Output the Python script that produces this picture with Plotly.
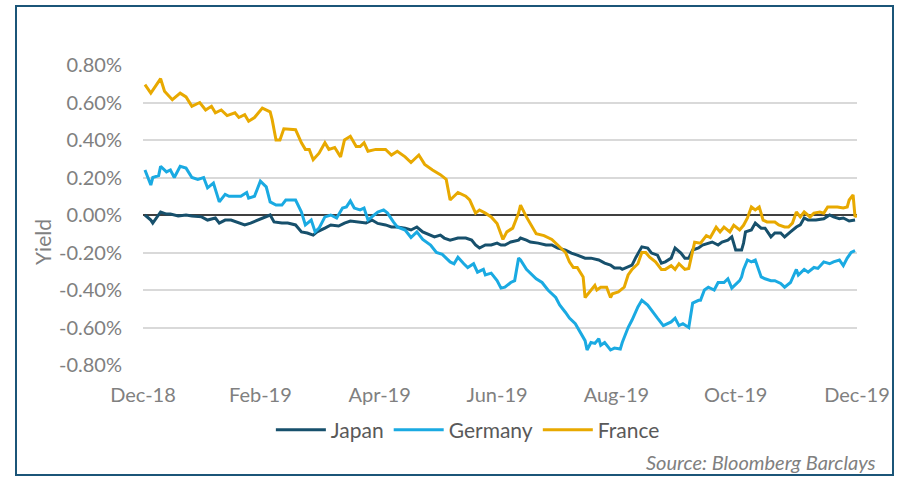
import plotly.graph_objects as go

# (date, yield %) readings per series
japan = [
    ("2019-01-01", 0.0), ("2019-01-04", -0.027), ("2019-01-05", -0.043), ("2019-01-07", -0.016),
    ("2019-01-09", 0.016), ("2019-01-12", 0.005), ("2019-01-14", 0.005), ("2019-01-18", -0.005),
    ("2019-01-22", 0.0), ("2019-01-25", -0.005), ("2019-01-30", -0.01), ("2019-02-02", -0.027),
    ("2019-02-06", -0.016), ("2019-02-08", -0.043), ("2019-02-11", -0.027), ("2019-02-14", -0.027),
    ("2019-02-18", -0.043), ("2019-02-21", -0.053), ("2019-02-24", -0.043), ("2019-02-28", -0.027),
    ("2019-03-02", -0.016), ("2019-03-06", 0.0), ("2019-03-08", -0.037), ("2019-03-12", -0.043),
    ("2019-03-15", -0.043), ("2019-03-19", -0.053), ("2019-03-22", -0.09), ("2019-03-25", -0.096),
    ("2019-03-28", -0.107), ("2019-03-30", -0.09), ("2019-04-03", -0.07), ("2019-04-06", -0.053),
    ("2019-04-10", -0.059), ("2019-04-13", -0.043), ("2019-04-16", -0.032), ("2019-04-20", -0.037),
    ("2019-04-24", -0.043), ("2019-04-27", -0.027), ("2019-04-30", -0.045), ("2019-05-04", -0.053),
    ("2019-05-07", -0.064), ("2019-05-10", -0.064), ("2019-05-14", -0.07), ("2019-05-17", -0.08),
    ("2019-05-20", -0.064), ("2019-05-23", -0.09), ("2019-05-27", -0.107), ("2019-05-29", -0.117),
    ("2019-06-01", -0.107), ("2019-06-03", -0.123), ("2019-06-06", -0.134), ("2019-06-10", -0.123),
    ("2019-06-14", -0.123), ("2019-06-17", -0.134), ("2019-06-19", -0.16), ("2019-06-21", -0.176),
    ("2019-06-24", -0.16), ("2019-06-27", -0.16), ("2019-06-30", -0.15), ("2019-07-02", -0.16),
    ("2019-07-04", -0.16), ("2019-07-07", -0.144), ("2019-07-11", -0.134), ("2019-07-12", -0.123),
    ("2019-07-15", -0.134), ("2019-07-17", -0.144), ("2019-07-21", -0.15), ("2019-07-25", -0.16),
    ("2019-07-28", -0.16), ("2019-07-31", -0.176), ("2019-08-04", -0.187), ("2019-08-07", -0.203),
    ("2019-08-10", -0.214), ("2019-08-14", -0.23), ("2019-08-17", -0.23), ("2019-08-21", -0.24),
    ("2019-08-24", -0.257), ("2019-08-27", -0.267), ("2019-08-29", -0.283), ("2019-09-01", -0.283),
    ("2019-09-02", -0.29), ("2019-09-04", -0.28), ("2019-09-07", -0.267), ("2019-09-09", -0.225),
    ("2019-09-12", -0.17), ("2019-09-15", -0.176), ("2019-09-17", -0.203), ("2019-09-20", -0.214),
    ("2019-09-22", -0.257), ("2019-09-24", -0.25), ("2019-09-27", -0.23), ("2019-09-29", -0.176),
    ("2019-10-02", -0.203), ("2019-10-04", -0.23), ("2019-10-06", -0.23), ("2019-10-08", -0.187),
    ("2019-10-11", -0.176), ("2019-10-13", -0.16), ("2019-10-16", -0.15), ("2019-10-18", -0.144),
    ("2019-10-21", -0.16), ("2019-10-23", -0.144), ("2019-10-26", -0.134), ("2019-10-28", -0.117),
    ("2019-10-30", -0.187), ("2019-11-02", -0.187), ("2019-11-03", -0.15), ("2019-11-04", -0.09),
    ("2019-11-07", -0.08), ("2019-11-09", -0.043), ("2019-11-12", -0.07), ("2019-11-14", -0.07),
    ("2019-11-17", -0.117), ("2019-11-19", -0.096), ("2019-11-22", -0.096), ("2019-11-24", -0.117),
    ("2019-11-27", -0.09), ("2019-11-30", -0.064), ("2019-12-02", -0.053), ("2019-12-04", -0.016),
    ("2019-12-06", -0.027), ("2019-12-10", -0.027), ("2019-12-14", -0.02), ("2019-12-17", 0.0),
    ("2019-12-19", -0.01), ("2019-12-22", -0.02), ("2019-12-24", -0.016), ("2019-12-27", -0.032),
    ("2019-12-30", -0.027),
]

germany = [
    ("2019-01-01", 0.24), ("2019-01-04", 0.16), ("2019-01-05", 0.20), ("2019-01-08", 0.21),
    ("2019-01-09", 0.26), ("2019-01-12", 0.23), ("2019-01-14", 0.24), ("2019-01-16", 0.20),
    ("2019-01-19", 0.26), ("2019-01-22", 0.25), ("2019-01-25", 0.20), ("2019-01-28", 0.19),
    ("2019-01-31", 0.20), ("2019-02-02", 0.145), ("2019-02-05", 0.17), ("2019-02-08", 0.07),
    ("2019-02-11", 0.11), ("2019-02-13", 0.10), ("2019-02-16", 0.10), ("2019-02-19", 0.10),
    ("2019-02-22", 0.12), ("2019-02-23", 0.09), ("2019-02-26", 0.10), ("2019-03-01", 0.18),
    ("2019-03-04", 0.15), ("2019-03-06", 0.07), ("2019-03-09", 0.053), ("2019-03-12", 0.053),
    ("2019-03-14", 0.08), ("2019-03-19", 0.08), ("2019-03-22", 0.016), ("2019-03-24", -0.053),
    ("2019-03-27", -0.027), ("2019-03-29", -0.09), ("2019-03-31", -0.07), ("2019-04-03", -0.01),
    ("2019-04-06", 0.0), ("2019-04-09", -0.016), ("2019-04-12", 0.037), ("2019-04-14", 0.043),
    ("2019-04-16", 0.075), ("2019-04-18", 0.037), ("2019-04-21", 0.027), ("2019-04-23", 0.037),
    ("2019-04-25", -0.027), ("2019-04-28", 0.0), ("2019-04-30", 0.016), ("2019-05-03", 0.027),
    ("2019-05-05", 0.01), ("2019-05-08", -0.037), ("2019-05-10", -0.064), ("2019-05-14", -0.08),
    ("2019-05-17", -0.12), ("2019-05-20", -0.09), ("2019-05-23", -0.13), ("2019-05-27", -0.16),
    ("2019-05-30", -0.20), ("2019-06-02", -0.21), ("2019-06-06", -0.25), ("2019-06-08", -0.26),
    ("2019-06-10", -0.225), ("2019-06-13", -0.26), ("2019-06-15", -0.28), ("2019-06-18", -0.26),
    ("2019-06-20", -0.305), ("2019-06-23", -0.29), ("2019-06-24", -0.32), ("2019-06-27", -0.31),
    ("2019-06-30", -0.35), ("2019-07-02", -0.39), ("2019-07-04", -0.385), ("2019-07-07", -0.36),
    ("2019-07-09", -0.35), ("2019-07-11", -0.23), ("2019-07-12", -0.24), ("2019-07-15", -0.29),
    ("2019-07-17", -0.31), ("2019-07-20", -0.34), ("2019-07-23", -0.36), ("2019-07-26", -0.40),
    ("2019-07-30", -0.44), ("2019-08-01", -0.48), ("2019-08-04", -0.52), ("2019-08-06", -0.55),
    ("2019-08-09", -0.58), ("2019-08-11", -0.615), ("2019-08-14", -0.67), ("2019-08-15", -0.72),
    ("2019-08-17", -0.68), ("2019-08-19", -0.685), ("2019-08-21", -0.66), ("2019-08-22", -0.695),
    ("2019-08-24", -0.68), ("2019-08-27", -0.72), ("2019-08-29", -0.71), ("2019-09-01", -0.715),
    ("2019-09-02", -0.68), ("2019-09-05", -0.60), ("2019-09-07", -0.56), ("2019-09-10", -0.49),
    ("2019-09-12", -0.455), ("2019-09-15", -0.48), ("2019-09-17", -0.51), ("2019-09-20", -0.55),
    ("2019-09-23", -0.59), ("2019-09-25", -0.58), ("2019-09-27", -0.57), ("2019-09-29", -0.55),
    ("2019-10-01", -0.59), ("2019-10-03", -0.58), ("2019-10-06", -0.60), ("2019-10-08", -0.47),
    ("2019-10-11", -0.455), ("2019-10-12", -0.455), ("2019-10-14", -0.40), ("2019-10-16", -0.385),
    ("2019-10-19", -0.40), ("2019-10-21", -0.36), ("2019-10-24", -0.36), ("2019-10-26", -0.34),
    ("2019-10-28", -0.39), ("2019-11-01", -0.35), ("2019-11-02", -0.33), ("2019-11-03", -0.29),
    ("2019-11-05", -0.24), ("2019-11-07", -0.25), ("2019-11-09", -0.24), ("2019-11-12", -0.33),
    ("2019-11-14", -0.34), ("2019-11-17", -0.35), ("2019-11-19", -0.35), ("2019-11-22", -0.365),
    ("2019-11-24", -0.385), ("2019-11-27", -0.36), ("2019-11-30", -0.29), ("2019-12-01", -0.32),
    ("2019-12-04", -0.29), ("2019-12-06", -0.305), ("2019-12-09", -0.28), ("2019-12-11", -0.285),
    ("2019-12-14", -0.25), ("2019-12-17", -0.26), ("2019-12-19", -0.25), ("2019-12-22", -0.24),
    ("2019-12-24", -0.27), ("2019-12-26", -0.23), ("2019-12-28", -0.20), ("2019-12-30", -0.19),
]

france = [
    ("2019-01-01", 0.695), ("2019-01-04", 0.65), ("2019-01-09", 0.727), ("2019-01-11", 0.66),
    ("2019-01-15", 0.615), ("2019-01-19", 0.65), ("2019-01-22", 0.63), ("2019-01-25", 0.58),
    ("2019-01-29", 0.60), ("2019-02-01", 0.56), ("2019-02-04", 0.58), ("2019-02-06", 0.545),
    ("2019-02-09", 0.56), ("2019-02-12", 0.53), ("2019-02-16", 0.545), ("2019-02-18", 0.52),
    ("2019-02-21", 0.535), ("2019-02-23", 0.50), ("2019-02-26", 0.52), ("2019-03-02", 0.57),
    ("2019-03-06", 0.55), ("2019-03-07", 0.51), ("2019-03-09", 0.40), ("2019-03-11", 0.40),
    ("2019-03-13", 0.46), ("2019-03-17", 0.455), ("2019-03-19", 0.455), ("2019-03-22", 0.385),
    ("2019-03-24", 0.35), ("2019-03-26", 0.35), ("2019-03-28", 0.295), ("2019-03-31", 0.33),
    ("2019-04-03", 0.385), ("2019-04-05", 0.35), ("2019-04-08", 0.36), ("2019-04-11", 0.31),
    ("2019-04-13", 0.40), ("2019-04-16", 0.42), ("2019-04-19", 0.365), ("2019-04-21", 0.365),
    ("2019-04-23", 0.385), ("2019-04-25", 0.34), ("2019-04-29", 0.35), ("2019-05-04", 0.35),
    ("2019-05-07", 0.32), ("2019-05-10", 0.34), ("2019-05-14", 0.31), ("2019-05-17", 0.28),
    ("2019-05-21", 0.32), ("2019-05-24", 0.27), ("2019-05-28", 0.24), ("2019-06-01", 0.215),
    ("2019-06-04", 0.19), ("2019-06-06", 0.08), ("2019-06-10", 0.12), ("2019-06-14", 0.10),
    ("2019-06-16", 0.08), ("2019-06-19", 0.01), ("2019-06-21", 0.027), ("2019-06-24", 0.01),
    ("2019-06-27", -0.01), ("2019-06-30", -0.045), ("2019-07-03", -0.13), ("2019-07-05", -0.09),
    ("2019-07-08", -0.07), ("2019-07-11", 0.01), ("2019-07-12", 0.053), ("2019-07-15", -0.01),
    ("2019-07-17", -0.045), ("2019-07-20", -0.10), ("2019-07-24", -0.11), ("2019-07-28", -0.13),
    ("2019-07-31", -0.16), ("2019-08-04", -0.20), ("2019-08-06", -0.25), ("2019-08-08", -0.28),
    ("2019-08-10", -0.28), ("2019-08-13", -0.33), ("2019-08-14", -0.44), ("2019-08-17", -0.40),
    ("2019-08-19", -0.375), ("2019-08-20", -0.40), ("2019-08-22", -0.385), ("2019-08-25", -0.385),
    ("2019-08-27", -0.44), ("2019-08-28", -0.42), ("2019-08-31", -0.41), ("2019-09-03", -0.385),
    ("2019-09-05", -0.32), ("2019-09-07", -0.29), ("2019-09-10", -0.26), ("2019-09-12", -0.20),
    ("2019-09-14", -0.20), ("2019-09-16", -0.225), ("2019-09-19", -0.25), ("2019-09-22", -0.29),
    ("2019-09-24", -0.29), ("2019-09-27", -0.27), ("2019-09-29", -0.29), ("2019-10-01", -0.26),
    ("2019-10-04", -0.29), ("2019-10-06", -0.285), ("2019-10-08", -0.19), ("2019-10-09", -0.145),
    ("2019-10-12", -0.15), ("2019-10-15", -0.11), ("2019-10-17", -0.12), ("2019-10-20", -0.065),
    ("2019-10-22", -0.09), ("2019-10-24", -0.065), ("2019-10-27", -0.09), ("2019-10-29", -0.055),
    ("2019-11-01", -0.08), ("2019-11-03", -0.055), ("2019-11-05", -0.016), ("2019-11-07", 0.043),
    ("2019-11-09", 0.027), ("2019-11-11", 0.043), ("2019-11-13", -0.027), ("2019-11-15", -0.037),
    ("2019-11-19", -0.037), ("2019-11-21", -0.053), ("2019-11-24", -0.064), ("2019-11-26", -0.064),
    ("2019-11-28", -0.043), ("2019-11-29", -0.016), ("2019-11-30", 0.016), ("2019-12-02", -0.01),
    ("2019-12-04", 0.016), ("2019-12-07", -0.01), ("2019-12-09", 0.01), ("2019-12-12", 0.016),
    ("2019-12-14", 0.01), ("2019-12-16", 0.043), ("2019-12-18", 0.043), ("2019-12-21", 0.043),
    ("2019-12-24", 0.037), ("2019-12-26", 0.043), ("2019-12-27", 0.08), ("2019-12-29", 0.107),
    ("2019-12-30", -0.01), ("2019-12-31", 0.0),
]

series_names = ["Japan", "Germany", "France"]
series_data = [japan, germany, france]
series_colors = ["#17506c", "#1aaae2", "#e8a900"]

x_tick_dates = ["2018-12-31", "2019-03-01", "2019-05-01", "2019-06-30",
                "2019-08-30", "2019-10-30", "2019-12-31"]
x_tick_labels = ["Dec-18", "Feb-19", "Apr-19", "Jun-19", "Aug-19", "Oct-19", "Dec-19"]
y_tick_vals = [0.8, 0.6, 0.4, 0.2, 0.0, -0.2, -0.4, -0.6, -0.8]
y_tick_labels = ["0.80%", "0.60%", "0.40%", "0.20%", "0.00%", "-0.20%", "-0.40%", "-0.60%", "-0.80%"]

FONT = "Lato"
GRAY = "#808080"

fig = go.Figure()
for name, data, color in zip(series_names, series_data, series_colors):
    fig.add_trace(go.Scatter(
        x=[d for d, _ in data], y=[v for _, v in data], name=name, mode="lines",
        line=dict(color=color, width=3),
    ))

fig.update_layout(
    width=902, height=477,
    margin=dict(l=143, r=45, t=65, b=112, autoexpand=False),
    paper_bgcolor="white", plot_bgcolor="white",
    font=dict(family=FONT, size=20, color=GRAY),
    showlegend=True,
    legend=dict(orientation="h", x=0.455, xanchor="center", y=-0.217, yanchor="middle",
                font=dict(family=FONT, size=21, color="#595959"),
                itemwidth=50, tracegroupgap=0, bgcolor="rgba(0,0,0,0)"),
    xaxis=dict(type="date", range=["2018-12-31", "2019-12-31"],
               tickmode="array", tickvals=x_tick_dates, ticktext=x_tick_labels,
               showgrid=False, zeroline=False, showline=False, ticks="",
               ticklabelstandoff=16, tickfont=dict(family=FONT, size=20, color=GRAY)),
    yaxis=dict(range=[-0.8, 0.8], tickmode="array", tickvals=y_tick_vals, ticktext=y_tick_labels,
               showgrid=True, gridcolor="#d9d9d9", gridwidth=1.5,
               zeroline=True, zerolinecolor="#404040", zerolinewidth=1.5,
               showline=False, ticks="", ticklabelstandoff=20,
               tickfont=dict(family=FONT, size=20, color=GRAY)),
    shapes=[dict(type="rect", xref="paper", yref="paper",
                 x0=(16 - 143) / 714, x1=(893 - 143) / 714,
                 y0=(365 - 475) / 300, y1=(365 - 6) / 300,
                 line=dict(color="#1b5578", width=2), fillcolor="rgba(0,0,0,0)", layer="below")],
    annotations=[
        dict(text="Yield", xref="paper", yref="paper", x=(42 - 143) / 714, y=(365 - 242) / 300,
             textangle=-90, showarrow=False, xanchor="center", yanchor="middle",
             font=dict(family=FONT, size=21, color=GRAY)),
        dict(text="<i>Source: Bloomberg Barclays</i>", xref="paper", yref="paper",
             x=(878 - 143) / 714, y=(365 - 462) / 300, xanchor="right", yanchor="middle",
             showarrow=False, font=dict(family=FONT, size=20, color=GRAY)),
    ],
)

fig.write_html("out.html", config={"displayModeBar": False},
               post_script="document.body.style.margin='0';")
